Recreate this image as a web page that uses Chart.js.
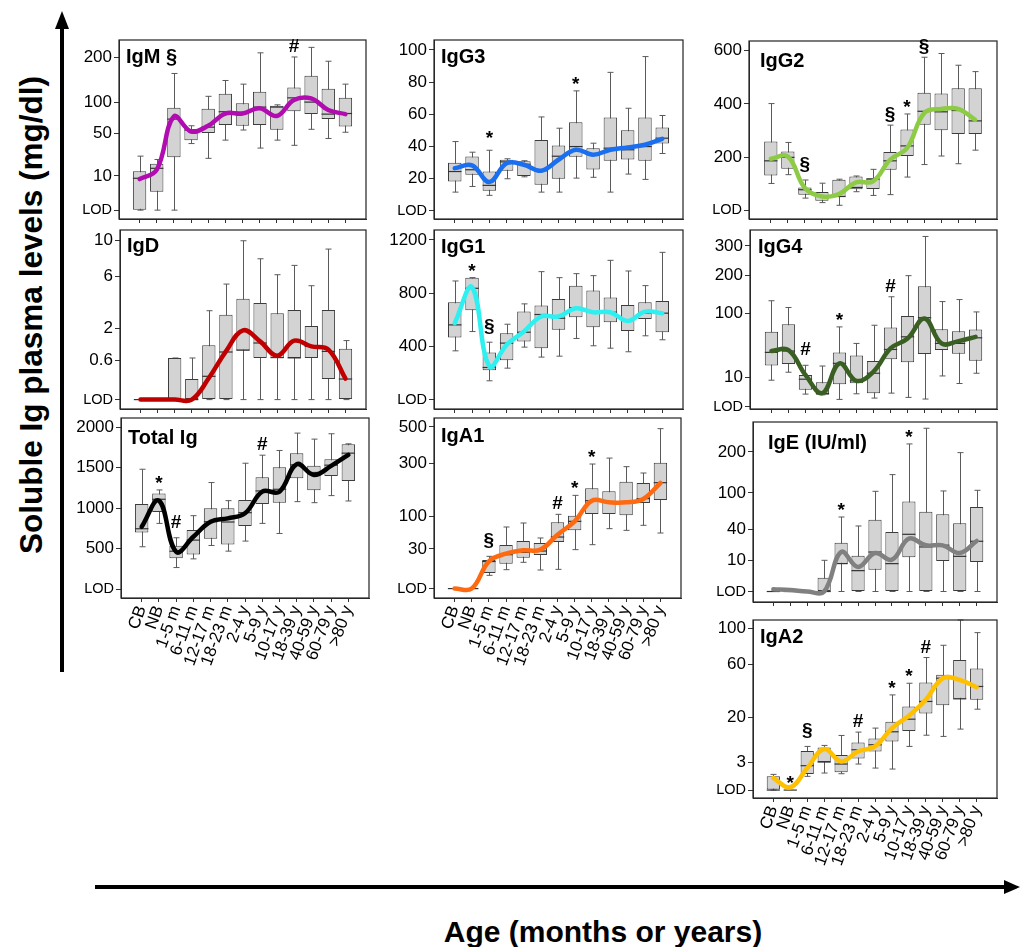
<!DOCTYPE html>
<html>
<head>
<meta charset="utf-8">
<script src="https://cdn.jsdelivr.net/npm/chart.js@4.4.1/dist/chart.umd.min.js"></script>
<style>
  body { margin: 0; width: 1020px; height: 947px; position: relative; overflow: hidden; background: #fff;
         font-family: 'Liberation Sans', Arial, sans-serif; }
  svg { position: absolute; left: 0; top: 0; }
  .big { position: absolute; font-weight: bold; white-space: nowrap; color: #000; text-align: center; }
  #ytitle { left: -269px; top: 295px; width: 600px; height: 40px; line-height: 40px; font-size: 31.5px;
            transform: rotate(-90deg); }
  #xtitle { left: 303px; top: 912px; width: 600px; height: 40px; line-height: 40px; font-size: 30px; }
</style>
</head>
<body>
<svg width="1020" height="947">
  <line x1="62" y1="672" x2="62" y2="26" stroke="#000" stroke-width="4"/>
  <polygon points="62,11 55,29 69,29" fill="#000"/>
  <line x1="95" y1="887" x2="1006" y2="887" stroke="#000" stroke-width="4"/>
  <polygon points="1020,887 1004,880 1004,894" fill="#000"/>
</svg>
<div id="ytitle" class="big">Soluble Ig plasma levels (mg/dl)</div>
<div id="xtitle" class="big">Age (months or years)</div>

<script>
      // age groups (x axis)
      const ages = ['CB', 'NB', '1-5 m', '6-11 m', '12-17 m', '18-23 m', '2-4 y', '5-9 y',
                    '10-17 y', '18-39 y', '40-59 y', '60-79 y', '>80 y'];

      // IgM (mg/dl), sqrt axis
      const igmTicks = [0, 10, 50, 100, 200];
      const igmLabels = ['LOD', '10', '50', '100', '200'];
      const igmHi  = [25, 22, 160, 61, 111, 144, 136, 212, 95, 201, 227, 190, 136];
      const igmQ3  = [13, 18.5, 90, 56, 88, 116, 98, 120, 93.5, 129, 155, 126, 108];
      const igmMed = [8.7, 15, 71, 55, 59, 83, 82, 91, 91, 108, 100, 79, 80];
      const igmQ1  = [0, 2.9, 24, 42, 51, 62, 61, 62, 55.5, 84, 79, 71, 60];
      const igmLo  = [0, 0, 0, 38, 23, 42, 55, 33, 42, 36, 56, 44, 52];
      const igmFit = [8.3, 14, 75, 53, 61, 80, 80, 89, 76, 104, 107, 86, 79];
      const igmMarks = ['', '', '', '', '', '', '', '', '', '#', '', '', ''];

      // IgD
      const igdTicks = [0, 0.6, 2, 6, 10];
      const igdLabels = ['LOD', '0.6', '2', '6', '10'];
      const igdHi  = [0, 0, 0.686, 0.686, 3.13, 5.29, 10, 7.86, 6.18, 7.14, 5.14, 8.98, 1.38];
      const igdQ3  = [0, 0, 0.686, 0.168, 1.17, 2.86, 4.03, 3.7, 2.95, 3.18, 2.15, 3.18, 1.02];
      const igdMed = [0, 0, 0, 0, 0.215, 0.898, 0.97, 1.27, 0.7, 0.69, 1.12, 0.92, 0.168];
      const igdQ1  = [0, 0, 0, 0, 0, 0, 0.96, 0.686, 0.686, 0.686, 0.686, 0.168, 0];
      const igdLo  = [0, 0, 0, 0, 0, 0, 0, 0, 0, 0, 0, 0, 0];
      const igdFit = [0, 0, 0, 0, 0.185, 0.92, 1.9, 1.345, 0.765, 1.376, 1.124, 0.99, 0.174];
      const igdMarks = ['', '', '', '', '', '', '', '', '', '', '', '', ''];

      // Total Ig, linear axis
      const totTicks = [0, 500, 1000, 1500, 2000];
      const totLabels = ['LOD', '500', '1000', '1500', '2000'];
      const totHi  = [1480, 1225, 636, 908, 1316, 1093, 1554, 1653, 1711, 1925, 1851, 1917, 1793];
      const totQ3  = [1052, 1180, 537, 730, 998, 998, 1101, 1381, 1505, 1678, 1522, 1604, 1789];
      const totMed = [747, 1110, 470, 607, 834, 830, 945, 1213, 1233, 1534, 1440, 1530, 1678];
      const totQ1  = [702, 953, 384, 430, 623, 553, 780, 1052, 1068, 1368, 1221, 1398, 1336];
      const totLo  = [525, 813, 269, 376, 541, 471, 595, 813, 689, 1081, 1068, 1155, 1089];
      const totFit = [771, 1093, 463, 648, 834, 875, 937, 1204, 1204, 1542, 1410, 1521, 1657];
      const totMarks = ['', '*', '#', '', '', '', '', '#', '', '', '', '', ''];

      // IgG3, linear
      const g3Ticks = [0, 20, 40, 60, 80, 100];
      const g3Labels = ['LOD', '20', '40', '60', '80', '100'];
      const g3Hi  = [43.1, 36.5, 37.7, 32.4, 31.2, 58.4, 51.4, 74.6, 42.1, 86.1, 63.8, 95.9, 59.3];
      const g3Q3  = [29.9, 33.8, 24.5, 31.8, 30.8, 44, 40.7, 55.1, 39, 58, 50.2, 58, 51.8];
      const g3Med = [24.5, 25.6, 15.9, 30.5, 29, 25, 34, 40, 35, 39, 38, 40, 45.2];
      const g3Q1  = [18.3, 22.5, 12.6, 25, 21.7, 16.3, 20, 33.6, 25.8, 31.2, 32, 31.2, 41.9];
      const g3Lo  = [11.7, 15.2, 9.7, 20, 21.2, 11.7, 11.7, 20.4, 20.9, 11.7, 22.9, 19.6, 35.7];
      const g3Fit = [26.6, 28.3, 18, 29.7, 28.7, 25, 31.8, 38, 34.9, 38, 39.4, 41.1, 44.8];
      const g3Marks = ['', '', '*', '', '', '', '', '*', '', '', '', '', ''];

      // IgG1, linear
      const g1Ticks = [0, 400, 800, 1200];
      const g1Labels = ['LOD', '400', '800', '1200'];
      const g1Hi  = [892, 917, 432, 567, 720, 962, 917, 947, 932, 1047, 967, 857, 1107];
      const g1Q3  = [732, 917, 355, 500, 662, 707, 757, 857, 820, 767, 712, 732, 742];
      const g1Med = [562, 837, 242, 425, 507, 640, 612, 692, 657, 657, 600, 650, 650];
      const g1Q1  = [467, 672, 222, 297, 437, 387, 525, 620, 545, 582, 517, 607, 507];
      const g1Lo  = [367, 512, 142, 237, 395, 320, 327, 460, 405, 387, 360, 480, 450];
      const g1Fit = [575, 845, 250, 412, 512, 625, 625, 687, 657, 657, 592, 662, 650];
      const g1Marks = ['', '*', '§', '', '', '', '', '', '', '', '', '', ''];

      // IgA1, sqrt
      const a1Ticks = [0, 30, 100, 300, 500];
      const a1Labels = ['LOD', '30', '100', '300', '500'];
      const a1Hi  = [0, 0, 19.9, 72.6, 82.3, 49, 105.5, 166.4, 297, 326, 284.5, 255.7, 489.6];
      const a1Q3  = [0, 0, 15.6, 36.3, 43.3, 39.8, 84, 101.8, 192.4, 181, 218.8, 213.4, 303.5];
      const a1Med = [0, 0, 14, 22, 25.1, 27, 50.9, 86.5, 147.9, 145, 145, 155, 214.7];
      const a1Q1  = [0, 0, 4.64, 11.9, 18.3, 21.6, 41.5, 64.9, 106.5, 106.5, 102.7, 140.2, 150.2];
      const a1Lo  = [0, 0, 3.35, 6.84, 13.2, 6.6, 7.08, 29, 36.9, 68.7, 64.9, 76.6, 59.1];
      const a1Fit = [0, 0, 14.2, 23.3, 28, 29, 55.6, 86.5, 147.9, 142.4, 142.4, 153.6, 213.4];
      const a1Marks = ['', '', '§', '', '', '', '#', '*', '*', '', '', '', ''];

      // IgG2, linear
      const g2Ticks = [0, 200, 400, 600];
      const g2Labels = ['LOD', '200', '400', '600'];
      const g2Hi  = [401, 255, 114, 102, 117, 129, 154, 320, 362, 575, 589, 545, 521];
      const g2Q3  = [259, 221, 86, 69, 115, 127.5, 121, 219, 304, 442, 439, 459, 459];
      const g2Med = [186, 199, 77.5, 55, 52, 86, 117.5, 186, 242, 372, 370, 375, 336];
      const g2Q1  = [131, 156, 59, 36, 50, 79, 80, 152, 204, 321, 301, 287, 287];
      const g2Lo  = [101, 134, 46, 29, 19, 70, 56, 59, 125, 172, 204, 175, 226];
      const g2Fit = [194, 202, 84, 52, 61, 105, 109, 190, 234, 365, 381, 381, 340];
      const g2Marks = ['', '', '§', '', '', '', '', '§', '*', '§', '', '', ''];

      // IgG4, sqrt
      const g4Ticks = [0, 10, 100, 200, 300];
      const g4Labels = ['LOD', '10', '100', '200', '300'];
      const g4Hi  = [130, 114, 19.8, 19.1, 73.7, 46.3, 76.8, 140, 199, 336, 128, 133, 104];
      const g4Q3  = [64.8, 78.7, 11.6, 6.9, 34.1, 30.4, 24.1, 72.5, 95.3, 168, 69.5, 65.9, 68.9];
      const g4Med = [34.1, 35.8, 8.7, 2, 21.7, 7.7, 12.9, 37.9, 56.5, 91.8, 46.3, 46.3, 54.9];
      const g4Q1  = [19.5, 21.1, 3.27, 1.62, 5.83, 6.36, 2.1, 25.9, 22.7, 32, 37.1, 32.4, 24.5];
      const g4Lo  = [8.08, 13.7, 1.81, 1.62, 0.6, 1.9, 0.84, 2.1, 0.98, 0.66, 10.9, 6.18, 12.9];
      const g4Fit = [35.8, 37.1, 11.6, 2.1, 21.7, 7.7, 14.2, 39.3, 53.8, 89.9, 46.3, 49.7, 56.5];
      const g4Marks = ['', '', '#', '', '*', '', '', '#', '', '', '', '', ''];

      // IgE (IU/ml), sqrt
      const igeTicks = [0, 10, 40, 100, 200];
      const igeLabels = ['LOD', '10', '40', '100', '200'];
      const igeHi  = [0, 0, 0, 10, 57, 44.1, 103.1, 140.3, 223.6, 273.6, 103.8, 198, 105.2];
      const igeQ3  = [0, 0, 0, 1.97, 24.5, 13.2, 53, 36.4, 83, 65.5, 61.2, 47.8, 73.4];
      const igeMed = [0, 0, 0, 0, 8, 4.47, 16, 7.98, 33.6, 20.4, 22, 12.7, 25.9];
      const igeQ1  = [0, 0, 0, 0, 7.9, 0, 4.9, 0, 12, 0, 9.58, 0, 8.96];
      const igeLo  = [0, 0, 0, 0, 0, 0, 0, 0, 0, 0, 0, 0, 0];
      const igeFit = [0.05, 0.02, 0, 0, 16, 6.2, 15.2, 10.4, 28.7, 21.9, 21.9, 15.2, 26.2];
      const igeMarks = ['', '', '', '', '*', '', '', '', '*', '', '', '', ''];

      // IgA2, sqrt
      const a2Ticks = [0, 3, 20, 60, 100];
      const a2Labels = ['LOD', '3', '20', '60', '100'];
      const a2Hi  = [0.94, 0, 7.28, 7.62, 11.4, 12.84, 14.67, 34.6, 43.6, 67.1, 80.1, 110.5, 94.7];
      const a2Q3  = [0.72, 0, 5.81, 6.95, 4.68, 8.67, 10.19, 17.8, 26.7, 44.2, 50.7, 64.7, 56.4];
      const a2Med = [0, 0, 2.27, 3, 2.59, 6.21, 7.85, 12.98, 19.2, 30, 47.8, 31.8, 41];
      const a2Q1  = [0, 0, 0.98, 3, 1.2, 3.83, 5.71, 9.04, 13.3, 22.4, 27.55, 31.8, 31.1];
      const a2Lo  = [0, 0, 0.72, 1.11, 1.02, 2.59, 1.85, 1.69, 7.28, 11.5, 11, 14.2, 25];
      const a2Fit = [0.55, 0.03, 1.85, 6.42, 3.14, 5.71, 7.28, 14.67, 21.1, 31.1, 47.8, 46.3, 40.4];
      const a2Marks = ['', '*', '§', '', '', '#', '', '*', '*', '#', '', '', ''];

      const FONT = "'Liberation Sans', Arial, sans-serif";
      Chart.defaults.font.family = FONT;
      const AXW = 58, PT = 10, PR = 6;

      const panels = [
        { title: 'IgM §', sq: true, min: -0.67, max: 248, ticks: igmTicks, labels: igmLabels,
          hi: igmHi, q3: igmQ3, med: igmMed, q1: igmQ1, lo: igmLo, fit: igmFit, marks: igmMarks,
          color: '#b00cb0', x: 119, y: 40, w: 247, h: 179 },
        { title: 'IgD', sq: true, min: -0.035, max: 11.4, ticks: igdTicks, labels: igdLabels,
          hi: igdHi, q3: igdQ3, med: igdMed, q1: igdQ1, lo: igdLo, fit: igdFit, marks: igdMarks,
          color: '#c00000', x: 120, y: 230, w: 246, h: 179, ty: 22 },
        { title: 'Total Ig', sq: false, min: -106, max: 2111, ticks: totTicks, labels: totLabels,
          hi: totHi, q3: totQ3, med: totMed, q1: totQ1, lo: totLo, fit: totFit, marks: totMarks,
          color: '#000000', x: 121, y: 418, w: 248, h: 180, bottom: true, ty: 26 },
        { title: 'IgG3', sq: false, min: -5, max: 106.2, ticks: g3Ticks, labels: g3Labels,
          hi: g3Hi, q3: g3Q3, med: g3Med, q1: g3Q1, lo: g3Lo, fit: g3Fit, marks: g3Marks,
          color: '#1a6ff0', x: 434, y: 40, w: 249, h: 179 },
        { title: 'IgG1', sq: false, min: -70, max: 1275, ticks: g1Ticks, labels: g1Labels,
          hi: g1Hi, q3: g1Q3, med: g1Med, q1: g1Q1, lo: g1Lo, fit: g1Fit, marks: g1Marks,
          color: '#2ef0f0', x: 434, y: 230, w: 249, h: 179 },
        { title: 'IgA1', sq: true, min: -1.7, max: 557, ticks: a1Ticks, labels: a1Labels,
          hi: a1Hi, q3: a1Q3, med: a1Med, q1: a1Q1, lo: a1Lo, fit: a1Fit, marks: a1Marks,
          color: '#ff6a10', x: 434, y: 418, w: 247, h: 180, bottom: true, ty: 24 },
        { title: 'IgG2', sq: false, min: -32.5, max: 636, ticks: g2Ticks, labels: g2Labels,
          hi: g2Hi, q3: g2Q3, med: g2Med, q1: g2Q1, lo: g2Lo, fit: g2Fit, marks: g2Marks,
          color: '#8dcb45', x: 749, y: 41, w: 248, h: 178, pad: 1.28, tx: 11, ty: 26 },
        { title: 'IgG4', sq: true, min: -0.068, max: 362, ticks: g4Ticks, labels: g4Labels,
          hi: g4Hi, q3: g4Q3, med: g4Med, q1: g4Q1, lo: g4Lo, fit: g4Fit, marks: g4Marks,
          color: '#3a5f22', x: 750, y: 230, w: 247, h: 179, pad: 1.26, tx: 8 },
        { title: 'IgE (IU/ml)', sq: true, min: -1.13, max: 295, ticks: igeTicks, labels: igeLabels,
          hi: igeHi, q3: igeQ3, med: igeMed, q1: igeQ1, lo: igeLo, fit: igeFit, marks: igeMarks,
          color: '#808080', x: 753, y: 422, w: 244, h: 180, tx: 15, ty: 27 },
        { title: 'IgA2', sq: true, min: -0.24, max: 110.5, ticks: a2Ticks, labels: a2Labels,
          hi: a2Hi, q3: a2Q3, med: a2Med, q1: a2Q1, lo: a2Lo, fit: a2Fit, marks: a2Marks,
          color: '#ffc000', x: 753, y: 620, w: 244, h: 178, bottom: true }
      ];

      function makePanel(p) {
        const t = p.sq ? (v => Math.sign(v) * Math.sqrt(Math.abs(v))) : (v => v);
        const pad = p.pad || 1.2;
        const fs = p.fs || 17;
        const xh = p.bottom ? 110 : 8;

        const cv = document.createElement('canvas');
        cv.width = AXW + p.w + PR;
        cv.height = PT + p.h + xh;
        cv.style.cssText = `position:absolute;left:${p.x - AXW}px;top:${p.y - PT}px`;
        document.body.appendChild(cv);

        const extras = {
          id: 'boxExtras',
          beforeDatasetsDraw(chart) {
            // whiskers sit under the boxes
            const ctx = chart.ctx, xs = chart.scales.x, ys = chart.scales.y;
            ctx.save();
            ctx.strokeStyle = '#5a5a5a';
            ctx.lineWidth = 1;
            p.lo.forEach((lo, i) => {
              if (p.hi[i] === lo) return;
              const x = Math.round(xs.getPixelForValue(i)) + 0.5;
              const yl = ys.getPixelForValue(t(lo)), yh = ys.getPixelForValue(t(p.hi[i]));
              ctx.beginPath();
              ctx.moveTo(x, yl); ctx.lineTo(x, yh);
              ctx.moveTo(x - 3, yh); ctx.lineTo(x + 3, yh);
              ctx.moveTo(x - 3, yl); ctx.lineTo(x + 3, yl);
              ctx.stroke();
            });
            ctx.restore();
          },
          afterDatasetDraw(chart, args) {
            if (args.meta.type !== 'bar') return;
            const ctx = chart.ctx, ys = chart.scales.y;
            ctx.save();
            ctx.strokeStyle = '#333';
            ctx.lineWidth = 1.2;
            args.meta.data.forEach((bar, i) => {
              const y = ys.getPixelForValue(t(p.med[i]));
              ctx.beginPath();
              ctx.moveTo(bar.x - bar.width / 2, y);
              ctx.lineTo(bar.x + bar.width / 2, y);
              ctx.stroke();
            });
            ctx.restore();
          },
          afterDraw(chart) {
            const ctx = chart.ctx, ca = chart.chartArea, xs = chart.scales.x, ys = chart.scales.y;
            ctx.save();
            ctx.strokeStyle = '#222';
            ctx.lineWidth = 1.2;
            ctx.strokeRect(ca.left, ca.top, ca.right - ca.left, ca.bottom - ca.top);
            ctx.fillStyle = '#000';
            ctx.font = `bold 20px ${FONT}`;
            ctx.textAlign = 'left';
            ctx.textBaseline = 'alphabetic';
            ctx.fillText(p.title, ca.left + (p.tx || 7), ca.top + (p.ty || 23));
            // significance symbols above the upper whisker
            ctx.font = `bold 19px ${FONT}`;
            ctx.textAlign = 'center';
            p.marks.forEach((m, i) => {
              if (!m) return;
              const gap = (m === '*' ? 1 : 5) + (i === 2 ? 5 : 0);
              ctx.fillText(m, xs.getPixelForValue(i), ys.getPixelForValue(t(p.hi[i])) - gap);
            });
            ctx.restore();
          }
        };

        new Chart(cv, {
          type: 'bar',
          data: {
            datasets: [
              {
                type: 'line',
                data: p.fit.map((v, i) => ({ x: i, y: t(v) })),
                borderColor: p.color,
                borderWidth: 4.5,
                borderCapStyle: 'round',
                pointRadius: 0,
                tension: 0.4,
                fill: false,
                order: 0
              },
              {
                type: 'bar',
                data: p.q1.map((v, i) => ({ x: i, y: [t(v), t(p.q3[i])] })),
                backgroundColor: '#d3d3d3',
                borderColor: '#3c3c3c',
                borderWidth: 1,
                borderSkipped: false,
                barPercentage: 0.78,
                categoryPercentage: 1,
                order: 1
              }
            ]
          },
          options: {
            responsive: false,
            animation: false,
            devicePixelRatio: 1,
            events: [],
            layout: { padding: { left: 0, top: PT, right: PR, bottom: 0 } },
            plugins: { legend: { display: false }, tooltip: { enabled: false } },
            scales: {
              x: {
                type: 'linear',
                min: -pad,
                max: 12 + pad,
                offset: false,
                afterBuildTicks: s => { s.ticks = ages.map((a, i) => ({ value: i })); },
                afterFit: s => { s.height = xh; s.paddingLeft = 0; s.paddingRight = 0; },
                ticks: {
                  autoSkip: false,
                  minRotation: 70,
                  maxRotation: 70,
                  padding: 1,
                  color: '#000',
                  font: { size: 17 },
                  callback: (v, i) => p.bottom ? ages[i] : ''
                },
                grid: { drawOnChartArea: false, offset: false, tickLength: 4, color: '#333' },
                border: { color: '#333' }
              },
              y: {
                type: 'linear',
                min: t(p.min),
                max: t(p.max),
                afterBuildTicks: s => { s.ticks = p.ticks.map(v => ({ value: t(v) })); },
                afterFit: s => { s.width = AXW; s.paddingTop = 0; s.paddingBottom = 0; },
                ticks: {
                  padding: 2,
                  color: '#000',
                  font: c => ({ size: c.tick && c.tick.label === 'LOD' ? 14.5 : fs }),
                  callback: (v, i) => p.labels[i]
                },
                grid: { drawOnChartArea: false, tickLength: 5, color: '#333' },
                border: { color: '#333' }
              }
            }
          },
          plugins: [extras]
        });
      }

      panels.forEach(makePanel);
</script>
</body>
</html>
